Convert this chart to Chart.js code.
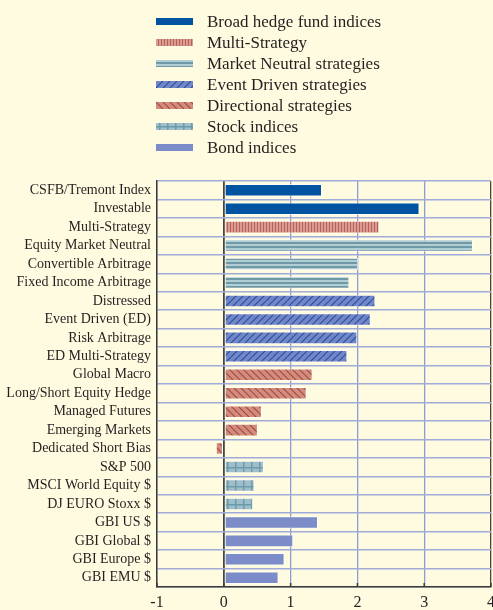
<!DOCTYPE html>
<html>
<head>
<meta charset="utf-8">
<script src="https://cdn.jsdelivr.net/npm/chart.js@4"></script>
<style>
  html, body { margin: 0; padding: 0; background: #fffbe0; }
  #wrap { position: relative; width: 493px; height: 610px; overflow: hidden; }
  #chart { position: absolute; left: 0; top: 0; }
  #legend { position: absolute; left: 156px; top: 11px; font-family: 'Liberation Serif', serif; font-size: 17px; color: #231f20; }
  .item { display: flex; align-items: center; height: 21px; }
  .item canvas { margin-right: 14px; }
</style>
</head>
<body>
<div id="wrap">
  <div id="legend"></div>
  <canvas id="chart" width="493" height="610"></canvas>
</div>
<script>
const categories = [
    'CSFB/Tremont Index', 'Investable', 'Multi-Strategy', 'Equity Market Neutral',
    'Convertible Arbitrage', 'Fixed Income Arbitrage', 'Distressed', 'Event Driven (ED)',
    'Risk Arbitrage', 'ED Multi-Strategy', 'Global Macro', 'Long/Short Equity Hedge',
    'Managed Futures', 'Emerging Markets', 'Dedicated Short Bias', 'S&P 500',
    'MSCI World Equity $', 'DJ EURO Stoxx $', 'GBI US $', 'GBI Global $',
    'GBI Europe $', 'GBI EMU $'
];
const values = [
    1.47, 2.93, 2.33, 3.73,
    2.01, 1.88, 2.27, 2.20,
    2.00, 1.85, 1.33, 1.24,
    0.57, 0.51, -0.12, 0.60,
    0.46, 0.44, 1.41, 1.04,
    0.91, 0.82
];
const groups = [
    'Broad hedge fund indices', 'Multi-Strategy', 'Market Neutral strategies',
    'Event Driven strategies', 'Directional strategies', 'Stock indices', 'Bond indices'
];
const groupOf = [0, 0, 1, 2, 2, 2, 3, 3, 3, 3, 4, 4, 4, 4, 4, 5, 5, 5, 6, 6, 6, 6];
const xTicks = [-1, 0, 1, 2, 3, 4];

const BAR_PCT = 0.68;
const serif = "'Liberation Serif', 'Times New Roman', serif";
const textColor = '#231f20';
const axisColor = '#3b3b3b';

// pattern tiles
const tile = (w, h, draw) => {
    const c = document.createElement('canvas');
    c.width = w; c.height = h;
    draw(c.getContext('2d'), w, h);
    return c;
};
const diag = (bg, fg, dir) => tile(7, 7, (g, w, h) => {
    g.fillStyle = bg; g.fillRect(0, 0, w, h);
    g.strokeStyle = fg; g.lineWidth = 1.1;
    for (const o of [-w, 0, w]) {
        g.beginPath();
        if (dir > 0) { g.moveTo(o, h); g.lineTo(o + w, 0); }
        else { g.moveTo(o, 0); g.lineTo(o + w, h); }
        g.stroke();
    }
});
const tiles = {
    multi: tile(3, 1, (g) => { g.fillStyle = '#da9c91'; g.fillRect(0, 0, 3, 1); g.fillStyle = '#b7615a'; g.fillRect(2, 0, 1, 1); }),
    neutral: tile(1, 4, (g) => { g.fillStyle = '#b2ced5'; g.fillRect(0, 0, 1, 4); g.fillStyle = '#6f99a7'; g.fillRect(0, 2, 1, 2); }),
    event: diag('#7586c6', '#1d50a4', 1),
    directional: diag('#d08c7d', '#a8443c', -1),
    stock: tile(8, 13, (g) => {
        g.fillStyle = '#a0bec9'; g.fillRect(0, 0, 8, 13);
        g.fillStyle = '#6c9cab'; g.fillRect(3, 0, 1.5, 13); g.fillRect(0, 6, 8, 1.5);
    })
};
const pctx = document.createElement('canvas').getContext('2d');
const pat = (t, dy) => {
    const p = pctx.createPattern(t, 'repeat');
    if (dy) p.setTransform(new DOMMatrix().translate(0, dy));
    return p;
};

const stockFill = (c) => {
    if (c.dataIndex === undefined || !c.chart.scales.y) return pat(tiles.stock);
    const y = c.chart.scales.y.getPixelForValue(c.dataIndex);
    return pat(tiles.stock, Math.round(y) - 6);
};

const fills = [
    '#0053a1',
    pat(tiles.multi),
    pat(tiles.neutral),
    pat(tiles.event),
    pat(tiles.directional),
    stockFill,
    '#7b8cc8'
];

const datasets = groups.map((g, gi) => ({
    label: g,
    data: values.map((v, i) => groupOf[i] === gi ? v : null),
    backgroundColor: fills[gi],
    borderColor: 'rgba(255,255,255,0.65)',
    borderWidth: 1,
    borderSkipped: false,
    grouped: false,
    categoryPercentage: 1,
    barPercentage: BAR_PCT
}));

// legend as html
const legendEl = document.getElementById('legend');
groups.forEach((g, gi) => {
    const row = document.createElement('div');
    row.className = 'item';
    const sw = document.createElement('canvas');
    sw.width = 37; sw.height = 7;
    const sc = sw.getContext('2d');
    const f = fills[gi];
    sc.fillStyle = typeof f === 'function' ? pat(tiles.stock, -3) : f;
    sc.fillRect(0, 0, 37, 7);
    const label = document.createElement('span');
    label.textContent = g;
    row.appendChild(sw);
    row.appendChild(label);
    legendEl.appendChild(row);
});

// small inward tick marks on the bottom axis
const innerTicks = {
    id: 'innerTicks',
    afterDatasetsDraw(chart) {
        const s = chart.scales.x;
        const c = chart.ctx;
        c.save();
        c.strokeStyle = axisColor;
        c.lineWidth = 1.5;
        s.ticks.forEach((t, i) => {
            const x = s.getPixelForTick(i);
            c.beginPath();
            c.moveTo(x, s.top);
            c.lineTo(x, s.top - 4);
            c.stroke();
        });
        c.restore();
    }
};

new Chart(document.getElementById('chart'), {
    type: 'bar',
    data: { labels: categories, datasets },
    plugins: [innerTicks],
    options: {
        indexAxis: 'y',
        responsive: false,
        animation: false,
        layout: { padding: { top: 181, right: 2, left: 0, bottom: 0 } },
        plugins: { legend: { display: false }, tooltip: { enabled: false } },
        scales: {
            x: {
                min: xTicks[0],
                max: xTicks[xTicks.length - 1],
                afterBuildTicks: (s) => { s.ticks = xTicks.map(v => ({ value: v })); },
                ticks: { font: { family: serif, size: 16 }, color: textColor, padding: 6 },
                grid: {
                    drawTicks: false,
                    color: (c) => (c.tick && (c.tick.value === 0 || c.tick.value === 4)) ? '#454545' : '#8f9cd3',
                    lineWidth: (c) => (c.tick && c.tick.value === 0) ? 1.8 : 1.3
                },
                border: { color: axisColor, width: 1.5 },
                afterFit: (s) => { s.paddingLeft = 0; s.paddingRight = 0; s.height = 23; }
            },
            y: {
                ticks: { font: { family: serif, size: 14 }, color: textColor, padding: 6, autoSkip: false },
                grid: { drawTicks: false, offset: true, color: '#a0abda', lineWidth: 1.5 },
                border: { color: axisColor, width: 1.5 },
                afterFit: (s) => { s.paddingTop = 0; s.paddingBottom = 0; s.width = 157; }
            }
        }
    }
});
</script>
</body>
</html>
